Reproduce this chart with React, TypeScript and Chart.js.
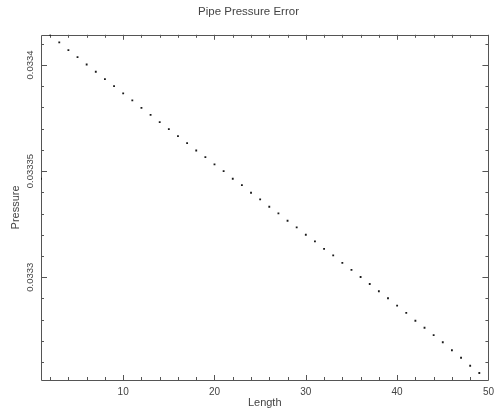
import React, { useEffect, useRef } from "react";
import { Chart, registerables } from "chart.js";

Chart.register(...registerables);

const TITLE = "Pipe Pressure Error";
const X_TITLE = "Length";
const Y_TITLE = "Pressure";

const LENGTH = [
  1, 2, 3, 4, 5, 6, 7, 8, 9, 10, 11, 12, 13, 14, 15, 16, 17, 18, 19, 20, 21, 22, 23, 24, 25,
  26, 27, 28, 29, 30, 31, 32, 33, 34, 35, 36, 37, 38, 39, 40, 41, 42, 43, 44, 45, 46, 47, 48, 49,
];

const PRESSURE = [
  0.0333464, 0.0334142, 0.0334106, 0.033407, 0.0334037, 0.0334002, 0.0333968, 0.0333933,
  0.03339, 0.0333866, 0.0333833, 0.0333798, 0.0333765, 0.0333731, 0.0333698, 0.0333665,
  0.0333632, 0.0333597, 0.0333566, 0.0333532, 0.03335, 0.0333464, 0.0333434, 0.0333398,
  0.0333367, 0.0333332, 0.0333301, 0.0333266, 0.0333235, 0.03332, 0.0333169, 0.0333134,
  0.0333103, 0.0333068, 0.0333035, 0.0333001, 0.0332968, 0.0332934, 0.0332901, 0.0332866,
  0.0332832, 0.0332795, 0.0332762, 0.0332727, 0.0332694, 0.0332656, 0.0332621, 0.0332583,
  0.0332549,
];

const X_MIN = 1;
const X_MAX = 50;
const Y_MIN = 0.0332516;
const Y_MAX = 0.0334142;

const X_MAJOR = [10, 20, 30, 40, 50];
const X_MINOR = [2, 4, 6, 8, 12, 14, 16, 18, 22, 24, 26, 28, 32, 34, 36, 38, 42, 44, 46, 48];
const Y_MAJOR = [0.0333, 0.03335, 0.0334];
const Y_MAJOR_LABELS = ["0.0333", "0.03335", "0.0334"];
const Y_MINOR = [
  0.03326, 0.03327, 0.03328, 0.03329, 0.03331, 0.03332, 0.03333, 0.03334, 0.03336, 0.03337,
  0.03338, 0.03339, 0.03341,
];

const FONT = "'Liberation Sans', Arial, sans-serif";
const TEXT = "#444";
const LINE = "#555";

const framePlugin = {
  id: "frameTicks",
  beforeDatasetsDraw(chart: any) {
    const { ctx, chartArea } = chart;
    const { left, right, top, bottom } = chartArea;
    const xs = chart.scales.x;
    const ys = chart.scales.y;
    ctx.save();
    ctx.strokeStyle = LINE;
    ctx.lineWidth = 1;
    ctx.beginPath();
    ctx.rect(Math.round(left) + 0.5, Math.round(top) + 0.5, Math.round(right - left), Math.round(bottom - top));
    ctx.stroke();
    const tickX = (vals: number[], len: number) => {
      vals.forEach((v) => {
        const px = Math.round(xs.getPixelForValue(v)) + 0.5;
        ctx.beginPath();
        ctx.moveTo(px, bottom);
        ctx.lineTo(px, bottom - len);
        ctx.moveTo(px, top);
        ctx.lineTo(px, top + len);
        ctx.stroke();
      });
    };
    const tickY = (vals: number[], len: number) => {
      vals.forEach((v) => {
        const py = Math.round(ys.getPixelForValue(v)) + 0.5;
        ctx.beginPath();
        ctx.moveTo(left, py);
        ctx.lineTo(left + len, py);
        ctx.moveTo(right, py);
        ctx.lineTo(right - len, py);
        ctx.stroke();
      });
    };
    tickX(X_MAJOR, 5);
    tickX(X_MINOR, 3);
    tickY(Y_MAJOR, 6);
    tickY(Y_MINOR, 3);
    ctx.restore();
  },
};

export default function App() {
  const ref = useRef<HTMLCanvasElement | null>(null);

  useEffect(() => {
    document.body.style.margin = "0";
    const canvas = ref.current;
    if (!canvas) return;
    const chart = new Chart(canvas, {
      type: "scatter",
      data: {
        datasets: [
          {
            data: LENGTH.map((x, i) => ({ x, y: PRESSURE[i] })),
            pointStyle: "rect",
            pointRadius: 1.3,
            pointBackgroundColor: "#1a1a1a",
            pointBorderWidth: 0,
            showLine: false,
          },
        ],
      },
      options: {
        animation: false,
        responsive: false,
        devicePixelRatio: 1,
        layout: { padding: { top: 0, right: 3, bottom: 0, left: 0 } },
        plugins: {
          legend: { display: false },
          tooltip: { enabled: false },
          title: {
            display: true,
            text: TITLE,
            color: TEXT,
            font: { family: FONT, size: 11.5, weight: "normal" },
            padding: { top: 5, bottom: 16 },
          },
        },
        scales: {
          x: {
            type: "linear",
            min: X_MIN,
            max: X_MAX,
            afterBuildTicks: (s: any) => {
              s.ticks = X_MAJOR.map((v) => ({ value: v }));
            },
            afterFit: (s: any) => {
              s.height = 39;
            },
            grid: { display: false, drawTicks: false },
            border: { display: false },
            ticks: {
              color: TEXT,
              font: { family: FONT, size: 10 },
              padding: 6,
              maxRotation: 0,
              autoSkip: false,
              callback: (v: any) => String(v),
            },
            title: {
              display: true,
              text: X_TITLE,
              color: TEXT,
              font: { family: FONT, size: 11 },
              padding: { top: 0, bottom: 9 },
            },
          },
          y: {
            type: "linear",
            min: Y_MIN,
            max: Y_MAX,
            afterBuildTicks: (s: any) => {
              s.ticks = Y_MAJOR.map((v) => ({ value: v }));
            },
            afterFit: (s: any) => {
              s.width = 41;
            },
            grid: { display: false, drawTicks: false },
            border: { display: false },
            ticks: {
              color: TEXT,
              font: { family: FONT, size: 9.5 },
              padding: -7,
              minRotation: 90,
              maxRotation: 90,
              crossAlign: "center",
              autoSkip: false,
              callback: (v: any) => {
                const i = Y_MAJOR.indexOf(v);
                return i >= 0 ? Y_MAJOR_LABELS[i] : String(v);
              },
            },
            title: {
              display: true,
              text: Y_TITLE,
              color: TEXT,
              font: { family: FONT, size: 11 },
              padding: { top: 9, bottom: 0 },
            },
          },
        },
      },
      plugins: [framePlugin],
    });
    return () => chart.destroy();
  }, []);

  return (
    <div style={{ position: "fixed", left: 0, top: 0, width: 500, height: 419, background: "#fff" }}>
      <canvas ref={ref} width={500} height={419} />
    </div>
  );
}
